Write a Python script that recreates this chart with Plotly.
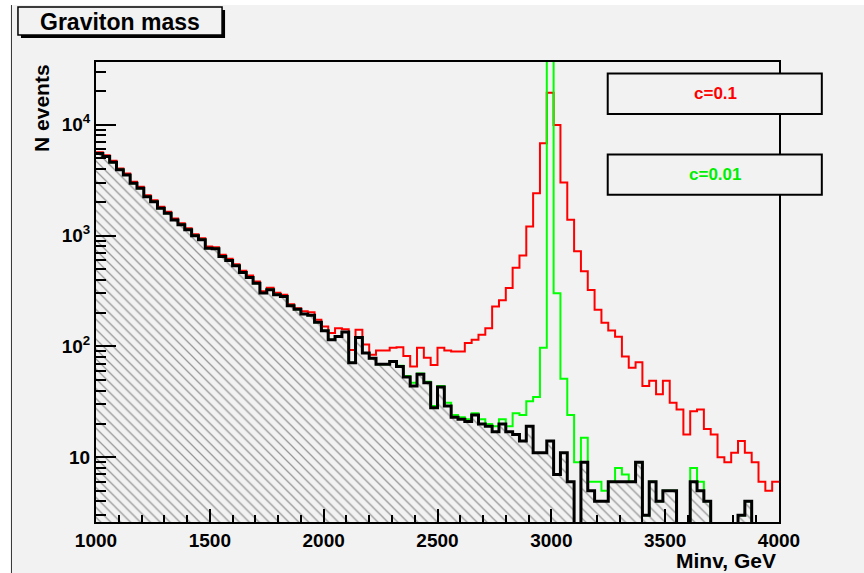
import numpy as np
import plotly.graph_objects as go

# ---- data (30 GeV bins from 1000 to 4000 GeV) ----
bin_lo = 1000
bin_hi = 4000
n_bins = 100

background = [5500, 5150, 4580, 3910, 3520, 2960, 2670, 2240, 2020, 1760,
              1590, 1380, 1250, 1125, 993, 914, 769, 760, 647, 596,
              533, 464, 419, 372, 303, 324, 292, 282, 233, 216,
              196, 191, 165, 138, 115, 123, 135, 71, 120, 87,
              78, 69, 69, 73, 66, 53, 44, 56, 47, 28,
              43, 29, 23, 22, 21, 24, 20, 19, 17, 20,
              17, 16, 14, 19, 11, 11, 14, 7, 11, 6,
              1, 9, 5, 4, 4, 6, 6, 6, 6, 9,
              3, 6, 4, 5, 5, 1, 1, 6, 5, 4,
              1, 1, 1, 1, 3, 4, 1, 1, 1, 1]

signal_c01 = [5650, 5300, 4720, 4030, 3630, 3050, 2750, 2310, 2080, 1815,
              1640, 1425, 1290, 1160, 1025, 945, 795, 785, 670, 618,
              550, 480, 435, 385, 315, 338, 305, 292, 240, 221,
              207, 203, 174, 151, 132, 146, 143, 93, 141, 104,
              84, 92, 92, 97, 98, 82, 66, 97, 79, 68,
              97, 92, 90, 90, 107, 115, 127, 146, 229, 260,
              336, 512, 660, 1205, 2404, 6790, 19400, 9940, 3010, 1387,
              720, 475, 322, 214, 163, 139, 122, 81, 64, 72,
              44, 49, 37, 49, 31, 27, 16, 26, 27, 18,
              16, 10, 9, 11, 14, 11, 9, 6, 5, 6]

signal_c001 = [5500, 5150, 4580, 3910, 3520, 2960, 2670, 2240, 2020, 1760,
               1590, 1380, 1250, 1125, 993, 914, 769, 760, 647, 596,
               533, 464, 419, 372, 303, 324, 292, 282, 233, 216,
               196, 191, 165, 138, 115, 123, 135, 71, 120, 87,
               78, 69, 69, 74, 67, 54, 47, 57, 48, 29,
               44, 31, 24, 23, 22, 25, 22, 20, 19, 22,
               19, 25, 24, 32, 35, 97, 60000, 302, 51, 24,
               9, 15, 6, 6, 5, 6, 8, 7, 6, 9,
               3, 6, 4, 5, 5, 1, 1, 8, 6, 4,
               1, 1, 1, 1, 3, 4, 1, 1, 1, 1]

y_tick_vals = [10, 100, 1000, 10000]
y_tick_text = ["10", "10<sup>2</sup>", "10<sup>3</sup>", "10<sup>4</sup>"]
x_tick_vals = [1000, 1500, 2000, 2500, 3000, 3500, 4000]

edges = np.linspace(bin_lo, bin_hi, n_bins + 1)


def step_y(vals):
    return list(vals) + [vals[-1]]


FONT = "Liberation Sans, Arial, Helvetica, sans-serif"
BG = "#f2f2f2"

# pixel geometry of the frame
L, R, T, B = 96, 778.7, 62, 522.5
W, H = 864, 573


def pxx(x):
    return (x - L) / (R - L)


def pxy(y):
    return (B - y) / (B - T)


fig = go.Figure()
fig.add_trace(go.Scatter(x=edges, y=step_y(signal_c01), mode="lines",
                         line=dict(color="#ff0000", width=2, shape="hv"),
                         hoverinfo="skip", showlegend=False))
fig.add_trace(go.Scatter(x=edges, y=step_y(signal_c001), mode="lines",
                         line=dict(color="#00ff00", width=2, shape="hv"),
                         hoverinfo="skip", showlegend=False))
fig.add_trace(go.Scatter(x=edges, y=step_y(background), mode="lines",
                         line=dict(color="black", width=3, shape="hv"),
                         fill="tozeroy", fillcolor="rgba(0,0,0,0)",
                         fillpattern=dict(shape="\\", fgcolor="#3a3a3a",
                                          bgcolor="rgba(0,0,0,0)",
                                          size=7, solidity=0.18),
                         hoverinfo="skip", showlegend=False))

minor_y = [m * 10 ** d for d in range(0, 5) for m in range(2, 10)]

fig.update_xaxes(range=[bin_lo, bin_hi], tickvals=x_tick_vals,
                 ticks="inside", ticklen=13, tickwidth=2, tickcolor="black",
                 showline=True, linewidth=2, linecolor="black", mirror=True,
                 showgrid=False, zeroline=False,
                 tickfont=dict(family=FONT, size=19, color="black", weight="bold"),
                 minor=dict(dtick=100, ticks="inside", ticklen=7, tickwidth=2,
                            tickcolor="black", showgrid=False))
fig.update_yaxes(type="log", range=[0.416, 4.565],
                 tickvals=y_tick_vals, ticktext=y_tick_text,
                 ticks="inside", ticklen=20, tickwidth=2, tickcolor="black",
                 showline=True, linewidth=2, linecolor="black", mirror=True,
                 showgrid=False, zeroline=False,
                 tickfont=dict(family=FONT, size=19, color="black", weight="bold"),
                 minor=dict(tickvals=minor_y, ticks="inside", ticklen=10,
                            tickwidth=2, tickcolor="black", showgrid=False))

shapes = [
    dict(type="rect", xref="paper", yref="paper", layer="below",
         x0=pxx(11), x1=pxx(W + 5), y0=pxy(5), y1=pxy(H + 5),
         fillcolor=BG, line=dict(width=0)),
    dict(type="line", xref="paper", yref="paper", layer="above",
         x0=pxx(11.5), x1=pxx(11.5), y0=pxy(5), y1=pxy(H + 5),
         line=dict(color="#333333", width=1)),
    # title box shadow + box
    dict(type="rect", xref="paper", yref="paper", layer="above",
         x0=pxx(21), x1=pxx(225), y0=pxy(10), y1=pxy(38),
         fillcolor="black", line=dict(width=0)),
    dict(type="rect", xref="paper", yref="paper", layer="above",
         x0=pxx(18), x1=pxx(222), y0=pxy(7), y1=pxy(35),
         fillcolor=BG, line=dict(color="black", width=1.5)),
    # legend boxes
    dict(type="rect", xref="paper", yref="paper", layer="above",
         x0=pxx(607.5), x1=pxx(821.5), y0=pxy(73.5), y1=pxy(114),
         fillcolor=BG, line=dict(color="black", width=2)),
    dict(type="rect", xref="paper", yref="paper", layer="above",
         x0=pxx(607.5), x1=pxx(821.5), y0=pxy(154.5), y1=pxy(195),
         fillcolor=BG, line=dict(color="black", width=2)),
]

annotations = [
    dict(text="<b>Graviton mass</b>", x=pxx(120), y=pxy(21.5), xref="paper", yref="paper",
         showarrow=False, xanchor="center", yanchor="middle",
         font=dict(family=FONT, size=23, color="black")),
    dict(text="<b>c=0.1</b>", x=pxx(715), y=pxy(94), xref="paper", yref="paper",
         showarrow=False, xanchor="center", yanchor="middle",
         font=dict(family=FONT, size=17, color="#ff0000")),
    dict(text="<b>c=0.01</b>", x=pxx(715), y=pxy(175), xref="paper", yref="paper",
         showarrow=False, xanchor="center", yanchor="middle",
         font=dict(family=FONT, size=17, color="#00ee00")),
    dict(text="<b>N events</b>", x=pxx(42), y=pxy(108), xref="paper", yref="paper",
         showarrow=False, xanchor="center", yanchor="middle", textangle=-90,
         font=dict(family=FONT, size=21, color="black")),
    dict(text="<b>Minv, GeV</b>", x=pxx(778), y=pxy(561), xref="paper", yref="paper",
         showarrow=False, xanchor="right", yanchor="middle",
         font=dict(family=FONT, size=21, color="black")),
]

fig.update_layout(width=W, height=H, autosize=False,
                  margin=dict(l=L, r=W - R, t=T, b=H - B, pad=0),
                  paper_bgcolor="white", plot_bgcolor="rgba(0,0,0,0)",
                  shapes=shapes, annotations=annotations, showlegend=False)

fig.write_html("out.html")
